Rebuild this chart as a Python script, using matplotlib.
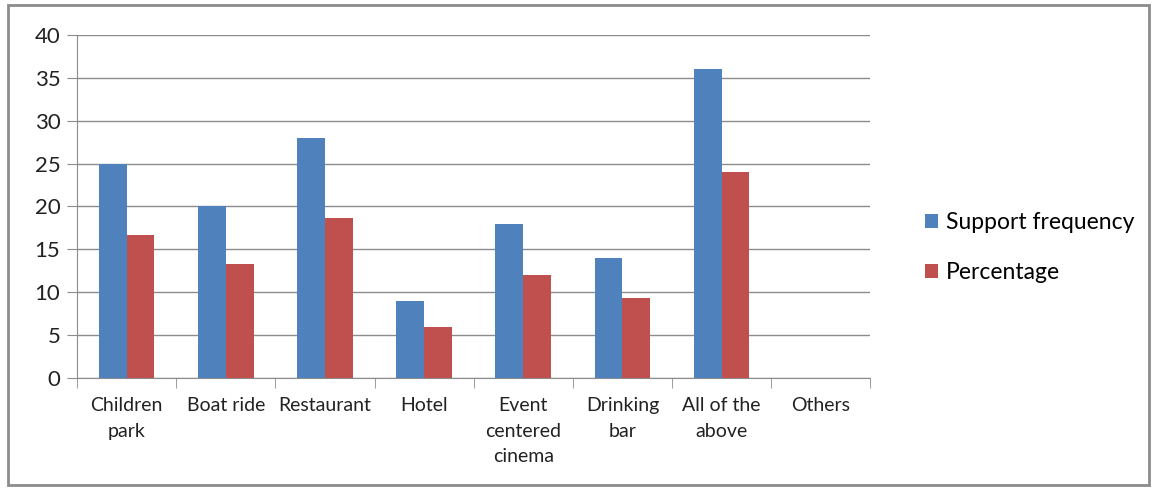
import matplotlib
matplotlib.use("Agg")
import matplotlib.pyplot as plt
import numpy as np
from matplotlib.patches import Rectangle

categories = ["Children\npark", "Boat ride", "Restaurant", "Hotel",
              "Event\ncentered\ncinema", "Drinking\nbar", "All of the\nabove", "Others"]
support_frequency = [25, 20, 28, 9, 18, 14, 36, 0]
percentage = [16.67, 13.33, 18.67, 6.0, 12.0, 9.33, 24.0, 0]

plt.rcParams['font.family'] = ['Lato', 'DejaVu Sans']

fig = plt.figure(figsize=(11.57, 4.88), dpi=100)
ax = fig.add_axes([0.0666, 0.2254, 0.6856, 0.7029])

x = np.arange(len(categories))
w = 0.28
ax.bar(x - w / 2, support_frequency, w, color="#4F81BD", label="Support frequency", zorder=3)
ax.bar(x + w / 2, percentage, w, color="#C0504D", label="Percentage", zorder=3)

ax.set_xlim(-0.5, len(categories) - 0.5)
ax.set_ylim(0, 40)
ax.set_yticks(range(0, 41, 5))
ax.yaxis.grid(True, color="#8C8C8C", linewidth=1, zorder=0)
ax.set_axisbelow(True)

for s in ["top", "right"]:
    ax.spines[s].set_visible(False)
ax.spines["left"].set_color("#8C8C8C")
ax.spines["bottom"].set_color("#8C8C8C")

ax.set_xticks(x)
ax.set_xticklabels(categories, fontsize=14, color="#222222", linespacing=1.58)
ax.tick_params(axis="x", length=0, pad=14)
ax.set_xticks(np.arange(-0.5, len(categories), 1), minor=True)
ax.tick_params(axis="x", which="minor", length=7, color="#8C8C8C", direction="out")
ax.tick_params(axis="y", length=7, color="#8C8C8C", labelsize=16, labelcolor="#222222", pad=5)

fig.legend(loc="center left", bbox_to_anchor=(0.782, 0.493), frameon=False,
           fontsize=16.5, handlelength=0.55, handleheight=0.55, handletextpad=0.35,
           labelspacing=1.25)

fig.patches.append(Rectangle((0.007, 0.006), 0.986, 0.983, transform=fig.transFigure,
                             fill=False, edgecolor="#8C8C8C", linewidth=2))

fig.savefig("out.png", dpi=100)
